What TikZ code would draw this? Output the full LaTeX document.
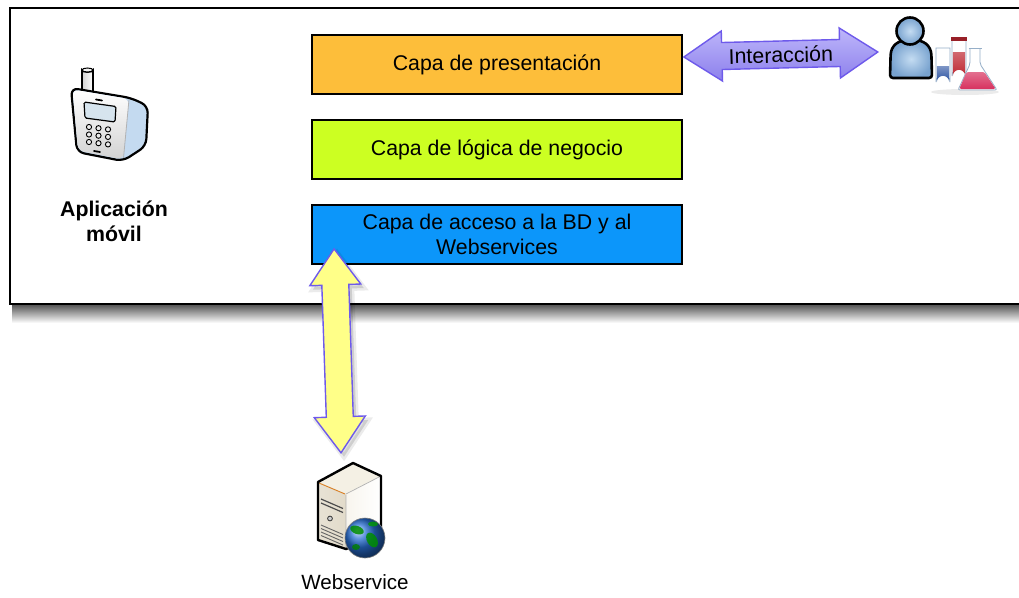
\documentclass[tikz,border=0pt]{standalone}
\usepackage{fontspec}
\setmainfont{Liberation Sans}
\usetikzlibrary{calc}

\definecolor{presfill}{RGB}{253,190,58}
\definecolor{logfill}{RGB}{204,255,34}
\definecolor{accfill}{RGB}{12,150,250}
\definecolor{arrowline}{RGB}{110,90,235}
\definecolor{lavtop}{RGB}{190,182,250}
\definecolor{lavbot}{RGB}{140,128,236}
\definecolor{yellowfill}{RGB}{255,255,136}
\definecolor{phoneside}{RGB}{196,218,240}
\definecolor{screenfill}{RGB}{214,228,238}
\definecolor{userlight}{RGB}{196,220,242}
\definecolor{userdark}{RGB}{120,162,206}
\definecolor{glassline}{RGB}{150,175,200}
\definecolor{tubeblue}{RGB}{40,80,160}
\definecolor{tubered}{RGB}{190,40,50}
\definecolor{flaskpink}{RGB}{215,50,95}
\definecolor{srvtop}{RGB}{244,240,228}
\definecolor{srvfront}{RGB}{226,219,202}
\definecolor{srvside}{RGB}{248,245,238}
\definecolor{globeblue}{RGB}{40,110,210}

\newcommand\boxfont{\fontsize{21.3}{25}\selectfont}

% wide double-headed arrow between two points:
% #1,#2 tips, #3 head length, #4 half head width, #5 half shaft width, #6 style
\newcommand\wideArrow[6]{%
  \coordinate (tmpA) at ($(#1)!#3!(#2)$);
  \coordinate (tmpB) at ($(#2)!#3!(#1)$);
  \draw[#6] (#1) -- ($(tmpA)!#4!90:(#1)$) -- ($(tmpA)!#5!90:(#1)$)
    -- ($(tmpB)!#5!-90:(#2)$) -- ($(tmpB)!#4!-90:(#2)$) -- (#2)
    -- ($(tmpB)!#4!90:(#2)$) -- ($(tmpB)!#5!90:(#2)$)
    -- ($(tmpA)!#5!-90:(#1)$) -- ($(tmpA)!#4!-90:(#1)$) -- cycle;}

\tikzset{
  layerbox/.style={draw=black, line width=1.8pt, minimum width=370pt,
    minimum height=59pt, inner sep=0pt, font=\boxfont, align=center},
  plainlabel/.style={font=\boxfont, align=center, inner sep=0pt},
  glass/.style={draw=glassline, line width=0.8pt, fill=white},
}

\begin{document}
\begin{tikzpicture}[x=1pt, y=-1pt]
\useasboundingbox (0,0) rectangle (1019,597);

% soft shadow under the application frame
\shade[top color=black!65, bottom color=white] (12,305) rectangle (1019,323);

% application frame
\draw[line width=1.6pt, fill=white] (10,8) rectangle (1024,304);

% layers
\node[layerbox, fill=presfill] (pres) at (497,64.5) {Capa de presentación};
\node[layerbox, fill=logfill] (logic) at (497,149.5) {Capa de lógica de negocio};
\node[layerbox, fill=accfill] (acc) at (497,234.5) {Capa de acceso a la BD y al\\Webservices};

% application label
\node[plainlabel, font=\boxfont\bfseries] (app) at (114,221) {Aplicación\\móvil};

% mobile phone icon: antenna
\shade[left color=gray!35, right color=white] (82,93) -- (82,70)
  arc[start angle=180, end angle=0, x radius=5.5, y radius=2] -- (93,93) -- cycle;
\draw[line width=1.8pt] (82,93) -- (82,70)
  arc[start angle=180, end angle=0, x radius=5.5, y radius=2] -- (93,93);
\draw[line width=1pt, fill=gray!10] (87.5,70) ellipse[x radius=5.5, y radius=2];
% body and front face
\draw[line width=2.2pt, fill=phoneside, rounded corners=7pt]
  (71,88) -- (131,98) -- (148,106) -- (146,146) -- (123,161) -- (77,152) -- cycle;
\shade[top color=white, bottom color=gray!35, rounded corners=6pt]
  (72.5,89.5) -- (129,99) -- (123,159.5) -- (78,150.5) -- cycle;
\draw[gray!60, line width=0.8pt] (129,99.5) -- (123.5,158);
\draw[line width=1.2pt, fill=screenfill, rounded corners=1.5pt]
  (84,102) -- (116,106.5) -- (115,122) -- (85,118) -- cycle;
\draw[line width=1.8pt, line cap=round] (96,99.5) -- (102,100.5);
\draw[line width=1.8pt, line cap=round] (94,151) -- (100,152);
\foreach \i in {0,1,2}
  \foreach \j in {0,1,2}
    \draw[line width=0.9pt, fill=gray!15] (89+9.5*\i, 127+7.5*\j+1.2*\i) circle[radius=2.6];

% user icon
\node[minimum width=44pt, minimum height=60pt, inner sep=0pt] (usr) at (911,48) {};
\draw[line width=2.6pt, inner color=userlight, outer color=userdark, rounded corners=3pt]
  (890,78) -- (890.5,58) .. controls (891,45) and (899,40) .. (911,40)
  .. controls (923,40) and (931,45) .. (931.5,58) -- (932,78) -- cycle;
\draw[line width=2.6pt, inner color=userlight, outer color=userdark] (910,31) circle[radius=13.5];

% test tubes and flask
\fill[black, opacity=0.08] (965,92) ellipse[x radius=34, y radius=3];
\draw[glass] (936,48) -- (936,82) arc[start angle=180, end angle=360, radius=7] -- (950,48) -- cycle;
\shade[top color=tubeblue!60, bottom color=tubeblue] (936.8,66) -- (936.8,82)
  arc[start angle=180, end angle=360, radius=6.2] -- (949.2,66) -- cycle;
\draw[glass] (952,39) -- (952,76) arc[start angle=180, end angle=360, radius=7] -- (966,39) -- cycle;
\shade[top color=tubered!70, bottom color=tubered] (952.8,52) -- (952.8,76)
  arc[start angle=180, end angle=360, radius=6.2] -- (965.2,52) -- cycle;
\fill[tubered!80!black] (951,37) rectangle (967,41);
\draw[glass, rounded corners=2pt] (970,49) -- (970,64) -- (958,90) -- (997,90) -- (980,64) -- (980,49);
\shade[top color=flaskpink!70, bottom color=flaskpink, rounded corners=1.5pt]
  (966.5,72) -- (959.3,89) -- (995.7,89) -- (984.4,72) -- cycle;
\draw[glassline, line width=1pt] (968.5,48.5) -- (981.5,48.5);

% web server icon
\node[minimum width=63pt, minimum height=90pt, inner sep=0pt] (srv) at (349.5,507) {};
\fill[srvtop] (318,482) -- (353,463) -- (381,476) -- (346,494) -- cycle;
\shade[left color=srvfront!80, right color=srvfront] (318,482) -- (346,494) -- (346,549) -- (318,540) -- cycle;
\shade[left color=srvside, right color=white] (346,494) -- (381,476) -- (381,536) -- (346,549) -- cycle;
\draw[brown!60!orange, line width=0.9pt] (319,483) -- (345,494);
\draw[gray!60, line width=0.7pt] (346,494) -- (381,476) (346,495) -- (346,548);
\draw[line width=2.4pt, line join=round] (318,482) -- (353,463) -- (381,476) -- (381,536) -- (346,549) -- (318,540) -- cycle;
\foreach \k in {0,1}
  \draw[black!70, line width=1.2pt] (321,499+4*\k) -- (343,508.5+4*\k);
\draw[black!80, fill=gray!40, line width=0.8pt] (330,518.5) circle[radius=2.4];
\foreach \k in {0,1,2,3}
  \draw[black!60, line width=0.9pt] (321,525+3.5*\k) -- (343,534.5+3.5*\k);
\shade[ball color=globeblue] (365,538) circle[radius=20];
\fill[green!55!black, opacity=0.85, rotate around={-20:(357,530)}] (357,530) ellipse[x radius=7, y radius=4];
\fill[green!55!black, opacity=0.85, rotate around={30:(372,540)}] (372,540) ellipse[x radius=5, y radius=8];
\fill[green!50!black, opacity=0.8] (356,547) ellipse[x radius=4, y radius=3];
\fill[green!60!black, opacity=0.8] (373,524) ellipse[x radius=5, y radius=2.5];
\draw[black!50, line width=0.6pt] (365,538) circle[radius=20];

% server label
\node[plainlabel, font=\fontsize{20.6}{24}\selectfont] (srvlabel) at (355,582) {Webservice};

% arrow between data access layer and web server
\coordinate (ytop) at ($(acc.south west)+(23,-16)$);
\coordinate (ybot) at ($(srv.north)+(-8.5,-9)$);
\begin{scope}[transform canvas={shift={(3pt,-4pt)}}]
  \wideArrow{ytop}{ybot}{36pt}{25.5pt}{13.5pt}{draw=black, draw opacity=0.08, line width=5pt, fill=black, fill opacity=0.12}
\end{scope}
\wideArrow{ytop}{ybot}{36pt}{25.5pt}{13.5pt}{draw=arrowline, line width=1.4pt, fill=yellowfill, line join=miter}

% interaction arrow between user and presentation layer
\coordinate (ileft) at ($(pres.east)+(1,-7.5)$);
\coordinate (iright) at ($(usr.west)+(-11,4)$);
\wideArrow{ileft}{iright}{38pt}{25pt}{13.5pt}{draw=arrowline, line width=1.4pt, top color=lavtop, bottom color=lavbot}
\node[plainlabel, rotate=1.5] (ilabel) at ($(ileft)!0.5!(iright)+(0,0.5)$) {Interacción};

\end{tikzpicture}
\end{document}
